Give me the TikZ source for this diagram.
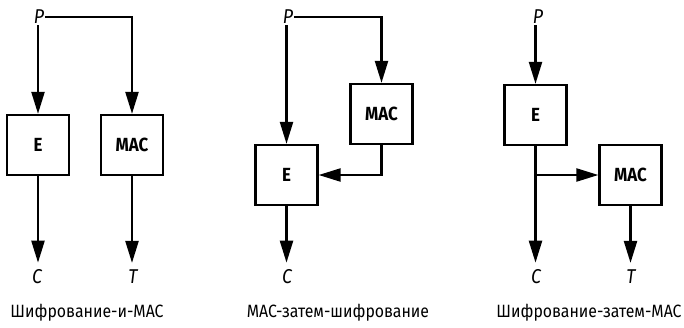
\documentclass[tikz,border=0pt]{standalone}
\usepackage{fontspec}
\setmainfont{Fira Sans}[FakeStretch=0.89]
\usetikzlibrary{arrows.meta}

\tikzset{
  blk/.style={draw, line width=2.3pt, minimum width=62pt, minimum height=60pt,
              inner sep=0pt, font=\fontsize{19}{21}\selectfont\bfseries},
  lbl/.style={inner sep=1pt, font=\fontsize{20}{22}\selectfont\itshape},
  capt/.style={inner sep=0pt, font=\fontsize{17.8}{20}\selectfont},
  arr/.style={line width=2.3pt, -{Triangle[length=22pt,width=13pt]}},
  outarr/.style={arr, shorten >=6pt}
}

\begin{document}
\begin{tikzpicture}[x=1pt, y=-1pt]
  \useasboundingbox (0,0) rectangle (684,327);

  % encrypt-and-MAC
  \node[lbl] (p1) at (39,17) {P};
  \node[blk] (e1) at (38,145) {E};
  \node[blk] (m1) at (132,145) {MAC};
  \node[lbl] (c1) at (37,277) {C};
  \node[lbl] (t1) at (133,277) {T};
  \node[capt] (k1) at (87,313) {Шифрование-и-МАС};
  \draw[arr] (e1.north |- p1.south) -- (e1.north);
  \draw[arr] (p1.east) -| (m1.north);
  \draw[outarr] (e1.south) -- (e1.south |- c1.north);
  \draw[outarr] (m1.south) -- (m1.south |- t1.north);

  % MAC-then-encrypt
  \node[lbl] (p2) at (288,17) {P};
  \node[blk] (e2) at (286.5,175) {E};
  \node[blk] (m2) at (381.5,114) {MAC};
  \node[lbl] (c2) at (287,277) {C};
  \node[capt] (k2) at (338,313) {МАС-затем-шифрование};
  \draw[arr] (e2.north |- p2.south) -- (e2.north);
  \draw[arr] (p2.east) -| (m2.north);
  \draw[arr] (m2.south) |- (e2.east);
  \draw[outarr] (e2.south) -- (e2.south |- c2.north);

  % encrypt-then-MAC
  \node[lbl] (p3) at (538,17) {P};
  \node[blk] (e3) at (535.5,115) {E};
  \node[blk] (m3) at (630.5,175) {MAC};
  \node[lbl] (c3) at (536,277) {C};
  \node[lbl] (t3) at (631,277) {T};
  \node[capt] (k3) at (589,313) {Шифрование-затем-МАС};
  \coordinate (b3) at (e3.south |- m3.west);
  \draw[arr] (e3.north |- p3.south) -- (e3.north);
  \draw[outarr] (e3.south) -- (e3.south |- c3.north);
  \draw[arr] (b3) -- (m3.west);
  \draw[outarr] (m3.south) -- (m3.south |- t3.north);
\end{tikzpicture}
\end{document}
